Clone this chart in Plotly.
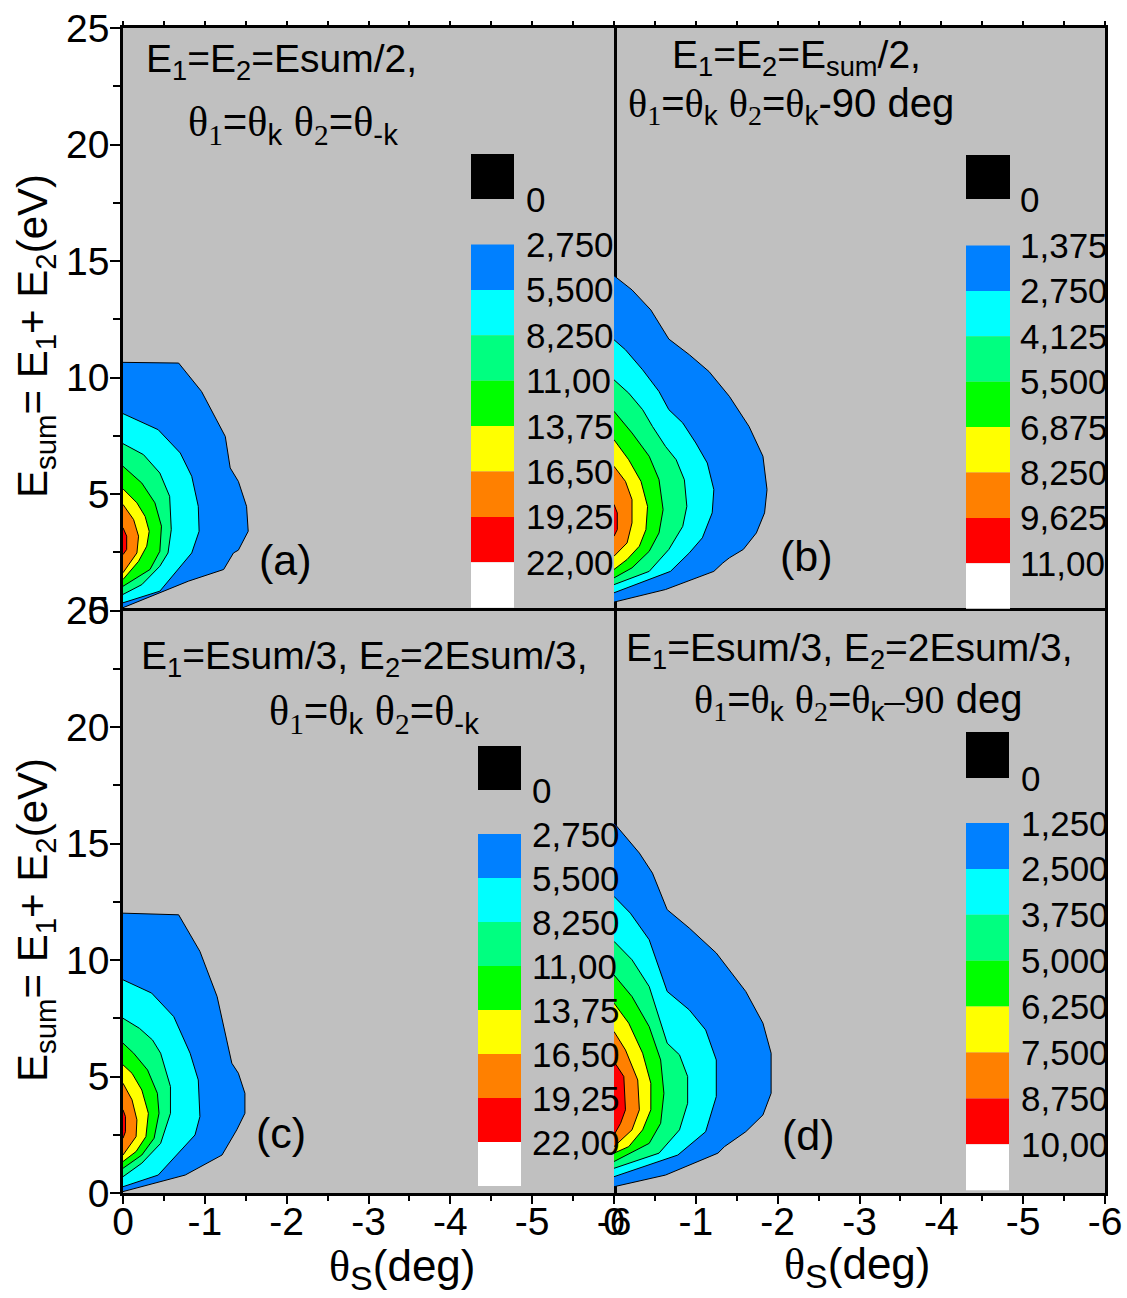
import plotly.graph_objects as go

# ---- contour colours (outer level -> inner level) ----
level_colors = ["#0080FF", "#00FFFF", "#00FF80", "#00FF00", "#FFFF00", "#FF8000", "#FF0000"]
key_colors = level_colors + ["#FFFFFF"]

# ---- colour-key labels for each panel ----
labels_a = ["0", "2,750", "5,500", "8,250", "11,00", "13,75", "16,50", "19,25", "22,00"]
labels_b = ["0", "1,375", "2,750", "4,125", "5,500", "6,875", "8,250", "9,625", "11,00"]
labels_c = ["0", "2,750", "5,500", "8,250", "11,00", "13,75", "16,50", "19,25", "22,00"]
labels_d = ["0", "1,250", "2,500", "3,750", "5,000", "6,250", "7,500", "8,750", "10,00"]

# ---- contour boundaries: theta_s (deg) and Esum (eV), one list per level ----
theta_a = [
    [0, -0.68, -0.96, -1.25, -1.31, -1.41, -1.51, -1.53, -1.41, -1.35, -1.23, -0.80, 0],
    [0, -0.43, -0.70, -0.84, -0.92, -0.93, -0.84, -0.45, 0],
    [0, -0.25, -0.45, -0.57, -0.59, -0.55, -0.45, -0.23, 0],
    [0, -0.23, -0.39, -0.47, -0.45, -0.33, 0],
    [0, -0.17, -0.27, -0.32, -0.29, -0.19, 0],
    [0, -0.13, -0.19, -0.17, 0],
    [0, -0.045, -0.045, 0],
]
esum_a = [
    [10.65, 10.62, 9.40, 7.47, 6.12, 5.54, 4.47, 3.40, 2.59, 2.47, 1.76, 1.26, 0.12],
    [8.45, 7.76, 6.76, 5.76, 4.47, 3.40, 2.47, 0.83, 0.33],
    [7.16, 6.69, 5.90, 4.90, 3.47, 2.47, 1.90, 1.11, 0.69],
    [6.19, 5.47, 4.62, 3.62, 2.54, 1.76, 1.04],
    [5.22, 4.62, 4.04, 3.40, 2.76, 2.11, 1.33],
    [4.55, 3.90, 3.19, 2.47, 1.62],
    [3.55, 3.19, 2.62, 2.40],
]

theta_b = [
    [0, -0.22, -0.45, -0.67, -0.92, -1.16, -1.41, -1.65, -1.82, -1.87, -1.84, -1.74, -1.58, -1.41, -1.33, -1.22, -0.63, 0],
    [0, -0.14, -0.35, -0.55, -0.67, -0.84, -1.00, -1.14, -1.22, -1.20, -1.08, -0.92, -0.69, -0.43, 0],
    [0, -0.18, -0.35, -0.47, -0.63, -0.76, -0.86, -0.89, -0.84, -0.67, -0.43, -0.18, 0],
    [0, -0.22, -0.43, -0.55, -0.60, -0.55, -0.43, -0.22, 0],
    [0, -0.18, -0.33, -0.41, -0.39, -0.31, -0.16, 0],
    [0, -0.14, -0.22, -0.22, -0.16, 0],
    [0, -0.04, -0.04, 0],
]
esum_b = [
    [14.37, 13.76, 12.90, 11.65, 10.98, 10.26, 9.19, 7.90, 6.62, 5.19, 4.19, 3.33, 2.62, 2.26, 2.04, 1.68, 0.90, 0.36],
    [11.62, 11.19, 10.33, 9.40, 8.62, 8.05, 7.19, 6.33, 5.19, 4.19, 3.12, 2.47, 1.68, 1.33, 0.76],
    [9.90, 9.33, 8.62, 7.90, 7.04, 6.47, 5.61, 4.47, 3.61, 2.62, 1.68, 1.33, 1.11],
    [8.55, 7.62, 6.62, 5.62, 4.33, 3.33, 2.54, 1.83, 1.40],
    [7.33, 6.47, 5.54, 4.47, 3.47, 2.76, 2.19, 1.76],
    [6.19, 5.54, 4.76, 3.76, 2.90, 2.33],
    [4.55, 4.19, 3.47, 3.19],
]

theta_c = [
    [0, -0.68, -0.94, -1.15, -1.33, -1.41, -1.49, -1.49, -1.39, -1.21, -0.76, 0],
    [0, -0.35, -0.62, -0.82, -0.92, -0.94, -0.88, -0.43, 0],
    [0, -0.20, -0.36, -0.46, -0.58, -0.58, -0.46, -0.23, 0],
    [0, -0.13, -0.30, -0.42, -0.44, -0.38, -0.23, 0],
    [0, -0.11, -0.23, -0.31, -0.28, -0.16, 0],
    [0, -0.11, -0.17, -0.16, 0],
    [0, -0.03, -0.03, 0],
]
esum_c = [
    [12.01, 11.94, 10.37, 8.43, 5.57, 5.14, 4.28, 3.42, 2.71, 1.63, 0.77, 0.06],
    [9.15, 8.58, 7.57, 6.00, 4.85, 3.28, 2.49, 0.77, 0.27],
    [7.50, 7.07, 6.57, 6.00, 4.57, 3.42, 2.13, 1.28, 0.70],
    [6.43, 6.00, 5.28, 4.28, 3.42, 2.35, 1.63, 1.06],
    [5.50, 5.14, 4.42, 3.42, 2.42, 1.78, 1.35],
    [4.71, 4.00, 3.14, 2.42, 1.63],
    [3.57, 3.28, 2.63, 2.35],
]

theta_d = [
    [0, -0.31, -0.47, -0.65, -0.92, -1.25, -1.61, -1.82, -1.92, -1.92, -1.82, -1.61, -1.35, -1.27, -0.63, 0],
    [0, -0.20, -0.43, -0.65, -0.92, -1.12, -1.25, -1.25, -1.12, -0.78, 0],
    [0, -0.22, -0.43, -0.65, -0.80, -0.90, -0.90, -0.80, -0.55, 0],
    [0, -0.22, -0.43, -0.57, -0.61, -0.57, -0.43, 0],
    [0, -0.18, -0.35, -0.45, -0.45, -0.35, -0.18, 0],
    [0, -0.14, -0.29, -0.31, -0.22, 0],
    [0, -0.12, -0.14, -0.08, 0],
]
esum_d = [
    [15.88, 14.59, 13.73, 12.16, 11.37, 10.30, 8.65, 7.29, 6.00, 4.28, 3.35, 2.63, 1.99, 1.71, 0.77, 0.27],
    [12.73, 12.01, 10.87, 8.65, 7.86, 7.00, 5.71, 4.14, 2.63, 1.63, 0.70],
    [10.80, 10.01, 8.86, 6.43, 5.93, 5.00, 3.85, 2.71, 1.71, 1.06],
    [9.36, 8.43, 7.14, 5.71, 4.28, 2.99, 2.13, 1.35],
    [8.15, 7.29, 6.00, 4.71, 3.57, 2.71, 1.99, 1.71],
    [6.93, 6.14, 4.85, 3.57, 2.71, 1.99],
    [5.64, 5.00, 3.57, 2.99, 2.49],
]

x_ticks = [0, -1, -2, -3, -4, -5, -6]
x_ticktext = ["0", "-1", "-2", "-3", "-4", "-5", "-6"]
y_ticks = [0, 5, 10, 15, 20, 25]

# ---- page geometry (pixels) ----
W, H = 1127, 1298
L, R, T, B = 123, 1105, 28, 1193


def px(x):
    return (x - L) / (R - L)


def py(y):
    return (B - y) / (B - T)


SANS = "Liberation Sans, Arial, sans-serif"
SERIF = "Liberation Serif,Times New Roman,serif"
GRAY = "#C0C0C0"

fig = go.Figure()

panels = [
    ("x", "y", theta_a, esum_a),
    ("x2", "y2", theta_b, esum_b),
    ("x3", "y3", theta_c, esum_c),
    ("x4", "y4", theta_d, esum_d),
]
for xa, ya, th, es in panels:
    for k, (xs, ys) in enumerate(zip(th, es)):
        fig.add_trace(go.Scatter(
            x=xs, y=ys, xaxis=xa, yaxis=ya, mode="lines",
            fill="toself", fillcolor=level_colors[k],
            line=dict(color="black", width=1),
            hoverinfo="skip", showlegend=False,
        ))

# ---- axes ----
LW = 2.5
common = dict(showline=True, linecolor="black", linewidth=LW,
              showgrid=False, zeroline=False, automargin=False)
xr = [1e-6, -6.000001]
yr = [-1e-6, 25.000001]
font_tick = dict(family=SANS, size=39, color="black")

top_x = dict(range=xr, side="top", mirror=False, ticks="outside", ticklen=4, tickwidth=1.5,
             tickcolor="black", dtick=0.5, tick0=0, showticklabels=False, **common)
bot_x = dict(range=xr, side="bottom", mirror=True, ticks="outside", ticklen=8, tickwidth=2,
             tickcolor="black", tickmode="array", tickvals=x_ticks, ticktext=x_ticktext,
             tickfont=font_tick, ticklabelstandoff=-16,
             minor=dict(dtick=0.5, tick0=0, ticks="outside", ticklen=5, tickwidth=1.5,
                        tickcolor="black", showgrid=False),
             **common)
left_y = dict(range=yr, side="left", mirror=True, ticks="outside", ticklen=10, tickwidth=2,
              tickcolor="black", tickmode="array", tickvals=y_ticks, tickfont=font_tick,
              ticklabelstandoff=-7,
              minor=dict(dtick=2.5, tick0=0, ticks="outside", ticklen=7, tickwidth=1.5,
                         tickcolor="black", showgrid=False),
              **common)
right_y = dict(range=yr, side="right", mirror=False, ticks="", showticklabels=False, **common)

fig.update_layout(
    width=W, height=H,
    margin=dict(l=L, r=W - R, t=T, b=H - B, pad=0, autoexpand=False),
    paper_bgcolor="white", plot_bgcolor=GRAY,
    xaxis=dict(domain=[0, 0.5], anchor="y", **top_x),
    yaxis=dict(domain=[0.5, 1], anchor="x", **left_y),
    xaxis2=dict(domain=[0.5, 1], anchor="y2", **top_x),
    yaxis2=dict(domain=[0.5, 1], anchor="x2", **right_y),
    xaxis3=dict(domain=[0, 0.5], anchor="y3", **bot_x),
    yaxis3=dict(domain=[0, 0.5], anchor="x3", **left_y),
    xaxis4=dict(domain=[0.5, 1], anchor="y4", **bot_x),
    yaxis4=dict(domain=[0, 0.5], anchor="x4", **right_y),
)

ann = []
shapes = []


def text(x, y, s, size, xanchor="center", angle=0):
    ann.append(dict(x=px(x), y=py(y), xref="paper", yref="paper", text=s,
                    showarrow=False, xanchor=xanchor, yanchor="middle",
                    textangle=angle, font=dict(family=SANS, size=size, color="black")))


def serif(s):
    return f'<span style="font-family:{SERIF}">{s}</span>'


def th(sub):
    return serif(f"θ<sub>{sub}</sub>")


TH = serif("θ")

# ---- panel headings ----
text(281, 62, "E<sub>1</sub>=E<sub>2</sub>=Esum/2,", 39)
text(293, 124, f"{th(1)}={TH}<sub>k</sub> {th(2)}={TH}<sub>-k</sub>", 42)
text(796, 58, "E<sub>1</sub>=E<sub>2</sub>=E<sub>sum</sub>/2,", 39)
text(791, 106, f"{th(1)}={TH}<sub>k</sub> {th(2)}={TH}<sub>k</sub>-90 deg", 40)
text(364, 658, "E<sub>1</sub>=Esum/3, E<sub>2</sub>=2Esum/3,", 39)
text(374, 713, f"{th(1)}={TH}<sub>k</sub> {th(2)}={TH}<sub>-k</sub>", 42)
text(849, 650, "E<sub>1</sub>=Esum/3, E<sub>2</sub>=2Esum/3,", 39)
text(858, 702, f"{th(1)}={TH}<sub>k</sub> {th(2)}={TH}<sub>k</sub>" + serif("–90") + " deg", 40)

# ---- panel tags ----
text(285, 560, "(a)", 43)
text(806, 556, "(b)", 43)
text(281, 1133, "(c)", 43)
text(808, 1135, "(d)", 43)

# ---- axis titles ----
ytitle = "E<sub>sum</sub>= E<sub>1</sub>+ E<sub>2</sub>(eV)"
text(35, 336, ytitle, 42, angle=-90)
text(35, 920, ytitle, 42, angle=-90)
xtitle = serif("θ") + '<sub><span style="font-size:34px">S</span></sub>(deg)'
text(402, 1269, xtitle, 44)
text(857, 1267, xtitle, 44)


# ---- colour keys ----
def color_key(x0, x1, black_top, black_bot, first, step, lab_x, labels):
    shapes.append(dict(type="rect", xref="paper", yref="paper",
                       x0=px(x0), x1=px(x1), y0=py(black_bot), y1=py(black_top),
                       fillcolor="black", line=dict(width=0), layer="above"))
    text(lab_x, black_bot, labels[0], 35, xanchor="left")
    for i, c in enumerate(key_colors):
        top = first + i * step
        shapes.append(dict(type="rect", xref="paper", yref="paper",
                           x0=px(x0), x1=px(x1), y0=py(top + step), y1=py(top),
                           fillcolor=c, line=dict(width=0), layer="above"))
        text(lab_x, top, labels[i + 1], 35, xanchor="left")


color_key(471, 514, 154, 199, 244.5, 45.4, 524, labels_a)
color_key(966, 1010, 155, 199, 245.5, 45.4, 1018, labels_b)
color_key(478, 521, 746, 790, 834, 44.0, 530, labels_c)
color_key(966, 1009, 732, 778, 823, 45.9, 1019, labels_d)

fig.update_layout(annotations=ann, shapes=shapes)
fig.write_html("out.html")
